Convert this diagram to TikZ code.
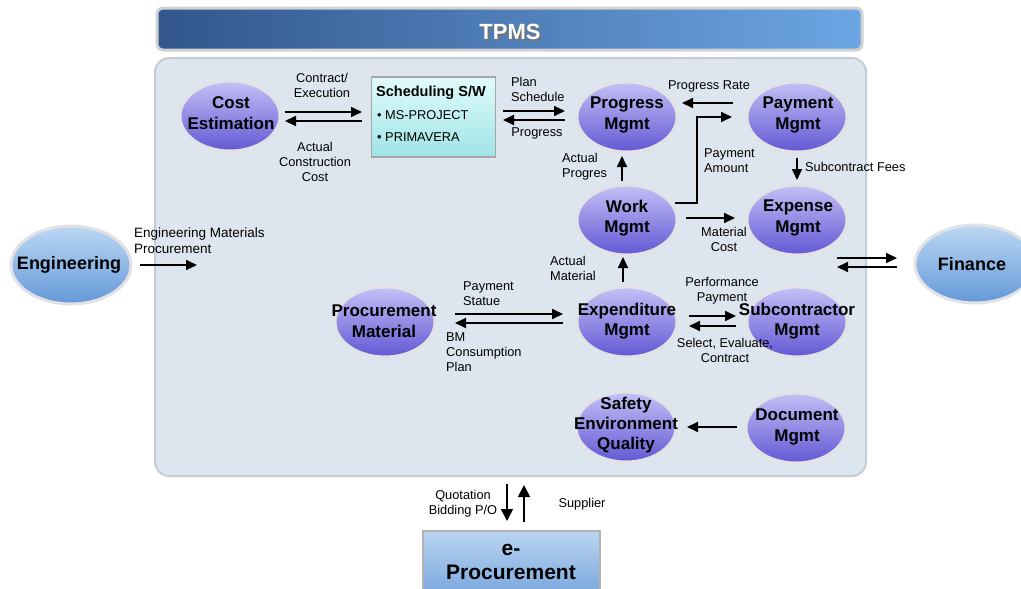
\documentclass[tikz,border=0pt]{standalone}
\usepackage{fontspec}
\setmainfont{Liberation Sans}
\usetikzlibrary{arrows.meta,shapes.geometric,shadings}
\definecolor{ptop}{RGB}{196,192,246}
\definecolor{pbot}{RGB}{98,88,212}
\definecolor{ellb}{RGB}{226,226,230}
\definecolor{btop}{RGB}{188,216,244}
\definecolor{bbot}{RGB}{100,152,216}
\definecolor{panelfill}{RGB}{221,230,238}
\definecolor{panelline}{RGB}{196,204,212}
\definecolor{bnl}{RGB}{50,86,140}
\definecolor{bnr}{RGB}{108,166,228}
\definecolor{stop}{RGB}{224,251,251}
\definecolor{sbot}{RGB}{160,228,230}
\definecolor{etop}{RGB}{186,213,241}
\definecolor{ebot}{RGB}{96,148,214}
\begin{document}
\begin{tikzpicture}[x=1pt,y=-1pt,
  arr/.style={line width=1.8pt,-{Triangle[length=11pt,width=10pt]}},
  arrbig/.style={line width=1.8pt,-{Triangle[length=12pt,width=12pt]}},
  pell/.style={ellipse,draw=ellb,line width=3pt,top color=ptop,bottom color=pbot,minimum width=100pt,minimum height=70pt,inner sep=0pt},
  bell/.style={ellipse,draw=ellb,line width=3pt,top color=btop,bottom color=bbot,minimum width=120pt,minimum height=78pt,inner sep=0pt},
  ntxt/.style={font=\fontsize{17}{20.5}\selectfont\bfseries,align=center,inner sep=0pt},
  lbl/.style={font=\fontsize{12.8}{15}\selectfont,align=center,inner sep=0pt},
  lbll/.style={font=\fontsize{12.8}{15}\selectfont,align=left,inner sep=0pt,anchor=west}]
\useasboundingbox (0,0) rectangle (1021,589);
% panel
\draw[rounded corners=14pt,fill=panelfill,draw=panelline,line width=2pt] (155,58) rectangle (866,476);
% banner
\node[rectangle,rounded corners=6pt,draw=black!18,line width=3pt,left color=bnl,right color=bnr,minimum width=705pt,minimum height=42pt] (banner) at (509.5,29) {};
\node[font=\fontsize{22}{24}\selectfont\bfseries,text=black!55] (tpmssh) at (511.5,33.5) {TPMS};
\node[font=\fontsize{22}{24}\selectfont\bfseries,text=white] (tpms) at (510,32) {TPMS};
% scheduling box
\node[rectangle,draw=black!35,line width=1.5pt,top color=stop,bottom color=sbot,minimum width=124pt,minimum height=80pt] (sched) at (433.5,117) {};
\node[font=\fontsize{14.5}{17}\selectfont\bfseries,anchor=west,inner sep=0pt] (schedt) at (376,93) {Scheduling S/W};
\node[lbll] (b1) at (377,115) {\textbullet\ MS-PROJECT};
\node[lbll] (b2) at (377,137) {\textbullet\ PRIMAVERA};
% e-procurement box
\node[rectangle,draw=black!30,line width=1.5pt,top color=etop,bottom color=ebot,minimum width=177pt,minimum height=90pt] (eproc) at (511.5,576) {};
\node[font=\fontsize{21}{24}\selectfont\bfseries,align=center,inner sep=0pt] (eproct) at (511,562) {e-\\Procurement};
% label partly covered by ellipse
\node[lbl] (lmat) at (724,239) {Material\\Cost};
% ellipses
\node[pell] (cost) at (230,116) {};
\node[pell] (prog) at (627,117) {};
\node[pell] (pay) at (797,117) {};
\node[pell] (work) at (627,220) {};
\node[pell] (exp) at (797,220) {};
\node[pell] (expd) at (627,322) {};
\node[pell] (sub) at (797,322) {};
\node[pell] (proc) at (385,322) {};
\node[pell] (safe) at (626,427) {};
\node[pell] (doc) at (796,428) {};
\node[bell] (eng) at (71,265) {};
\node[bell] (fin) at (975,264) {};
% ellipse texts
\node[ntxt] (costt) at (231,113) {Cost\\Estimation};
\node[ntxt] (progt) at (627,115) {Progress\\Mgmt};
\node[ntxt] (payt) at (798,115) {Payment\\Mgmt};
\node[ntxt] (workt) at (627,218) {Work\\Mgmt};
\node[ntxt] (expt) at (798,218) {Expense\\Mgmt};
\node[ntxt] (expdt) at (627,321) {Expenditure\\Mgmt};
\node[ntxt] (subt) at (797,321) {Subcontractor\\Mgmt};
\node[ntxt] (proct) at (384,321) {Procurement\\Material};
\node[ntxt,font=\fontsize{17}{20}\selectfont\bfseries] (safet) at (626,425) {Safety\\Environment\\Quality};
\node[ntxt] (doct) at (797,427) {Document\\Mgmt};
\node[ntxt,font=\fontsize{18}{20}\selectfont\bfseries] (engt) at (69,265) {Engineering};
\node[ntxt,font=\fontsize{18}{20}\selectfont\bfseries] (fint) at (972,264) {Finance};
% labels
\node[lbl] (l1) at (322,85.5) {Contract/\\Execution};
\node[lbl] (l2) at (315,162) {Actual\\Construction\\Cost};
\node[lbll] (l3) at (511,89.5) {Plan\\Schedule};
\node[lbl] (l4) at (537,133) {Progress};
\node[lbl] (l5) at (709,86) {Progress Rate};
\node[lbll] (l6) at (704,161) {Payment\\Amount};
\node[lbll] (l7) at (805,167) {Subcontract Fees};
\node[lbll] (l8) at (562,166.5) {Actual\\Progres};
\node[lbll] (l9) at (550,268) {Actual\\Material};
\node[lbll] (l10) at (463,294) {Payment\\Statue};
\node[lbll] (l11) at (446,352) {BM\\Consumption\\Plan};
\node[lbl] (l12) at (722,291) {Performance\\Payment};
\node[lbl] (l13) at (725,350) {Select, Evaluate,\\Contract};
\node[lbll,font=\fontsize{13.5}{16.5}\selectfont] (l14) at (134,240.5) {Engineering Materials\\Procurement};
\node[lbl] (l15) at (463,503.5) {Quotation\\Bidding P/O};
\node[lbl] (l16) at (582,504) {Supplier};
% connector coordinates
\coordinate (c1a) at (285,112); \coordinate (c1b) at (362,112);
\coordinate (c2a) at (362,121); \coordinate (c2b) at (285,121);
\coordinate (c3a) at (503,111); \coordinate (c3b) at (565,111);
\coordinate (c4a) at (565,120); \coordinate (c4b) at (503,120);
\coordinate (c5a) at (733,103); \coordinate (c5b) at (682,103);
\coordinate (c6a) at (675,203); \coordinate (c6m) at (697,203); \coordinate (c6n) at (697,117); \coordinate (c6b) at (732,117);
\coordinate (c7a) at (797,158); \coordinate (c7b) at (797,180);
\coordinate (c8a) at (686,218); \coordinate (c8b) at (735,218);
\coordinate (c9a) at (622,181); \coordinate (c9b) at (622,156);
\coordinate (c10a) at (623,282); \coordinate (c10b) at (623,257);
\coordinate (c11a) at (455,314); \coordinate (c11b) at (563,314);
\coordinate (c12a) at (563,323); \coordinate (c12b) at (455,323);
\coordinate (c13a) at (689,316); \coordinate (c13b) at (736,316);
\coordinate (c14a) at (736,326); \coordinate (c14b) at (689,326);
\coordinate (c15a) at (837,258); \coordinate (c15b) at (897,258);
\coordinate (c16a) at (897,267); \coordinate (c16b) at (837,267);
\coordinate (c17a) at (140,265); \coordinate (c17b) at (197,265);
\coordinate (c18a) at (737,427); \coordinate (c18b) at (687,427);
\coordinate (c19a) at (507,484); \coordinate (c19b) at (507,521);
\coordinate (c20a) at (524,522); \coordinate (c20b) at (524,485);
% connectors
\draw[arr] (c1a) -- (c1b);
\draw[arr] (c2a) -- (c2b);
\draw[arr] (c3a) -- (c3b);
\draw[arr] (c4a) -- (c4b);
\draw[arr] (c5a) -- (c5b);
\draw[arr] (c6a) -- (c6m) -- (c6n) -- (c6b);
\draw[arr] (c7a) -- (c7b);
\draw[arr] (c8a) -- (c8b);
\draw[arr] (c9a) -- (c9b);
\draw[arr] (c10a) -- (c10b);
\draw[arr] (c11a) -- (c11b);
\draw[arr] (c12a) -- (c12b);
\draw[arr] (c13a) -- (c13b);
\draw[arr] (c14a) -- (c14b);
\draw[arr] (c15a) -- (c15b);
\draw[arr] (c16a) -- (c16b);
\draw[arr] (c17a) -- (c17b);
\draw[arr] (c18a) -- (c18b);
\draw[arrbig] (c19a) -- (c19b);
\draw[arrbig] (c20a) -- (c20b);
\end{tikzpicture}
\end{document}
